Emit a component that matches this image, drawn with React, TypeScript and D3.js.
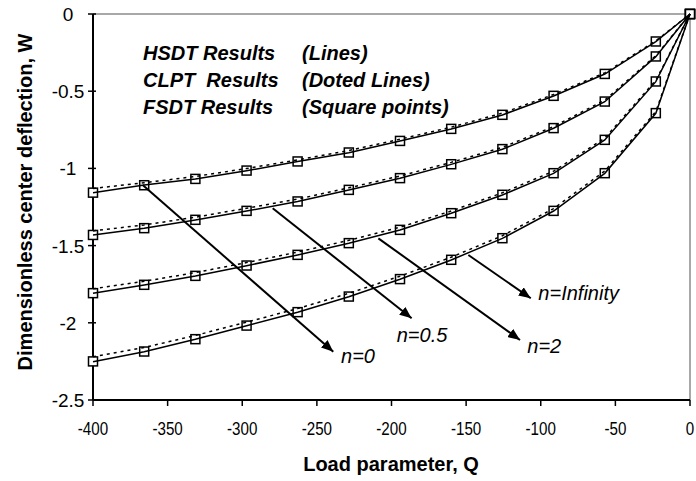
import React, { useEffect, useRef } from "react";
import * as d3 from "d3";

// load parameter values (x)
const loadQ = [-400, -365.7, -331.4, -297.1, -262.9, -228.6, -194.3, -160, -125.7, -91.4, -57.1, -22.9, 0];

// HSDT results (solid lines)
const hsdtN0 = [-1.157, -1.108, -1.069, -1.015, -0.956, -0.898, -0.823, -0.745, -0.654, -0.531, -0.389, -0.179, 0];
const hsdtN05 = [-1.431, -1.388, -1.334, -1.276, -1.215, -1.14, -1.064, -0.974, -0.876, -0.74, -0.568, -0.276, 0];
const hsdtN2 = [-1.809, -1.755, -1.697, -1.63, -1.561, -1.485, -1.399, -1.291, -1.172, -1.032, -0.816, -0.438, 0];
const hsdtNInf = [-2.252, -2.187, -2.107, -2.019, -1.932, -1.831, -1.718, -1.593, -1.453, -1.276, -1.032, -0.643, 0];

// CLPT results (dotted lines)
const clptN0 = [-1.13, -1.093, -1.052, -1.001, -0.945, -0.884, -0.811, -0.733, -0.642, -0.521, -0.381, -0.174, 0];
const clptN05 = [-1.405, -1.366, -1.316, -1.258, -1.199, -1.126, -1.049, -0.961, -0.864, -0.729, -0.558, -0.27, 0];
const clptN2 = [-1.78, -1.731, -1.675, -1.61, -1.542, -1.466, -1.381, -1.276, -1.158, -1.018, -0.804, -0.43, 0];
const clptNInf = [-2.22, -2.16, -2.082, -1.996, -1.908, -1.809, -1.698, -1.575, -1.436, -1.26, -1.017, -0.632, 0];

// FSDT results (square points)
const fsdtN0 = [-1.157, -1.109, -1.068, -1.014, -0.955, -0.897, -0.822, -0.744, -0.653, -0.53, -0.388, -0.178, 0];
const fsdtN05 = [-1.431, -1.387, -1.333, -1.275, -1.214, -1.139, -1.063, -0.973, -0.875, -0.739, -0.567, -0.275, 0];
const fsdtN2 = [-1.808, -1.754, -1.696, -1.629, -1.56, -1.484, -1.398, -1.29, -1.171, -1.031, -0.815, -0.437, 0];
const fsdtNInf = [-2.25, -2.186, -2.106, -2.018, -1.931, -1.83, -1.717, -1.592, -1.452, -1.275, -1.031, -0.642, 0];

const xTicks = [-400, -350, -300, -250, -200, -150, -100, -50, 0];
const yTicks = [0, -0.5, -1, -1.5, -2, -2.5];

// arrows pointing from each curve to its label (data coordinates)
const arrowLabels = ["n=0", "n=0.5", "n=2", "n=Infinity"];
const arrowFromQ = [-366.7, -279.6, -208.8, -148.5];
const arrowFromW = [-1.108, -1.258, -1.453, -1.561];
const arrowToQ = [-239, -186.5, -113.9, -106.7];
const arrowToW = [-2.187, -1.971, -2.111, -1.841];
const labelQ = [-233.8, -196.5, -109, -101.6];
const labelW = [-2.262, -2.122, -2.194, -1.852];

const legendMethods = ["HSDT Results", "CLPT  Results", "FSDT Results"];
const legendStyles = ["(Lines)", "(Doted Lines)", "(Square points)"];

const width = 696;
const height = 481;
const margin = { top: 14, right: 6, bottom: 81, left: 93 };
const font = "'Liberation Sans', Arial, sans-serif";

export default function App() {
  const ref = useRef<SVGSVGElement>(null);

  useEffect(() => {
    const svg = d3.select(ref.current);
    svg.selectAll("*").remove();

    const x = d3.scaleLinear().domain([-400, 0]).range([margin.left, width - margin.right]);
    const y = d3.scaleLinear().domain([-2.5, 0]).range([height - margin.bottom, margin.top]);

    svg.append("rect").attr("width", width).attr("height", height).attr("fill", "#fff");

    svg.append("defs").append("marker")
      .attr("id", "arrow")
      .attr("markerUnits", "userSpaceOnUse")
      .attr("viewBox", "0 0 12 10")
      .attr("refX", 12).attr("refY", 5)
      .attr("markerWidth", 12).attr("markerHeight", 10)
      .attr("orient", "auto")
      .append("path")
      .attr("d", "M0,0 L12,5 L0,10 Z")
      .attr("fill", "#000");

    // gray frame top and right
    svg.append("path")
      .attr("d", `M${x(-400)},${y(0)} H${x(0)} V${y(-2.5)}`)
      .attr("fill", "none")
      .attr("stroke", "#8c8c8c")
      .attr("stroke-width", 1.5);

    // y axis
    svg.append("line")
      .attr("x1", x(-400)).attr("x2", x(-400))
      .attr("y1", y(0)).attr("y2", y(-2.5))
      .attr("stroke", "#000").attr("stroke-width", 2);
    yTicks.forEach(function(t) {
      svg.append("line")
        .attr("x1", x(-400) - 5).attr("x2", x(-400) + 3)
        .attr("y1", y(t)).attr("y2", y(t))
        .attr("stroke", "#000").attr("stroke-width", 1.5);
      svg.append("text")
        .attr("x", x(-400) - 25).attr("y", y(t) + 7)
        .attr("text-anchor", "middle")
        .attr("font-family", font).attr("font-size", 19)
        .text(String(t));
    });

    // x axis
    svg.append("line")
      .attr("x1", x(-400)).attr("x2", x(0))
      .attr("y1", y(-2.5)).attr("y2", y(-2.5))
      .attr("stroke", "#000").attr("stroke-width", 2);
    xTicks.forEach(function(t) {
      svg.append("line")
        .attr("x1", x(t)).attr("x2", x(t))
        .attr("y1", y(-2.5)).attr("y2", y(-2.5) + 6)
        .attr("stroke", "#000").attr("stroke-width", 1.5);
      svg.append("text")
        .attr("transform", "translate(" + x(t) + "," + (y(-2.5) + 35) + ") scale(0.82,1)")
        .attr("text-anchor", "middle")
        .attr("font-family", font).attr("font-size", 18.5)
        .text(String(t));
    });

    // axis titles
    svg.append("text")
      .attr("x", 391).attr("y", 471)
      .attr("text-anchor", "middle")
      .attr("font-family", font).attr("font-size", 20).attr("font-weight", "bold")
      .text("Load parameter, Q");
    svg.append("text")
      .attr("transform", "translate(32,202) rotate(-90)")
      .attr("text-anchor", "middle")
      .attr("font-family", font).attr("font-size", 20).attr("font-weight", "bold")
      .text("Dimensionless center deflection, W");

    // legend text
    legendMethods.forEach(function(m, i) {
      svg.append("text")
        .attr("x", 143).attr("y", 60 + i * 26.8)
        .attr("font-family", font).attr("font-size", 20)
        .attr("font-weight", "bold").attr("font-style", "italic")
        .style("white-space", "pre")
        .text(m);
      svg.append("text")
        .attr("x", 302).attr("y", 60 + i * 26.8)
        .attr("font-family", font).attr("font-size", 20)
        .attr("font-weight", "bold").attr("font-style", "italic")
        .text(legendStyles[i]);
    });

    const line = d3.line<number>()
      .x(function(d, i) { return x(loadQ[i]); })
      .y(function(d) { return y(d); });

    // FSDT squares
    [fsdtN0, fsdtN05, fsdtN2, fsdtNInf].forEach(function(s) {
      svg.append("g").selectAll("rect")
        .data(s)
        .enter().append("rect")
        .attr("x", function(d, i) { return x(loadQ[i]) - 4.5; })
        .attr("y", function(d) { return y(d) - 4.5; })
        .attr("width", 9).attr("height", 9)
        .attr("fill", "#fff")
        .attr("stroke", "#000")
        .attr("stroke-width", 1.5);
    });

    // CLPT dotted lines
    [clptN0, clptN05, clptN2, clptNInf].forEach(function(s) {
      svg.append("path")
        .attr("d", line(s))
        .attr("fill", "none")
        .attr("stroke", "#000")
        .attr("stroke-width", 1.5)
        .attr("stroke-dasharray", "3,4");
    });

    // HSDT solid lines
    [hsdtN0, hsdtN05, hsdtN2, hsdtNInf].forEach(function(s) {
      svg.append("path")
        .attr("d", line(s))
        .attr("fill", "none")
        .attr("stroke", "#000")
        .attr("stroke-width", 1.5);
    });

    // annotations
    arrowLabels.forEach(function(lbl, i) {
      svg.append("line")
        .attr("x1", x(arrowFromQ[i])).attr("y1", y(arrowFromW[i]))
        .attr("x2", x(arrowToQ[i])).attr("y2", y(arrowToW[i]))
        .attr("stroke", "#000").attr("stroke-width", 2)
        .attr("marker-end", "url(#arrow)");
      svg.append("text")
        .attr("x", x(labelQ[i])).attr("y", y(labelW[i]))
        .attr("font-family", font).attr("font-size", 20)
        .attr("font-style", "italic")
        .text(lbl);
    });
  }, []);

  return (
    <svg
      ref={ref}
      width={width}
      height={height}
      style={{ position: "absolute", left: 0, top: 0 }}
    ></svg>
  );
}
